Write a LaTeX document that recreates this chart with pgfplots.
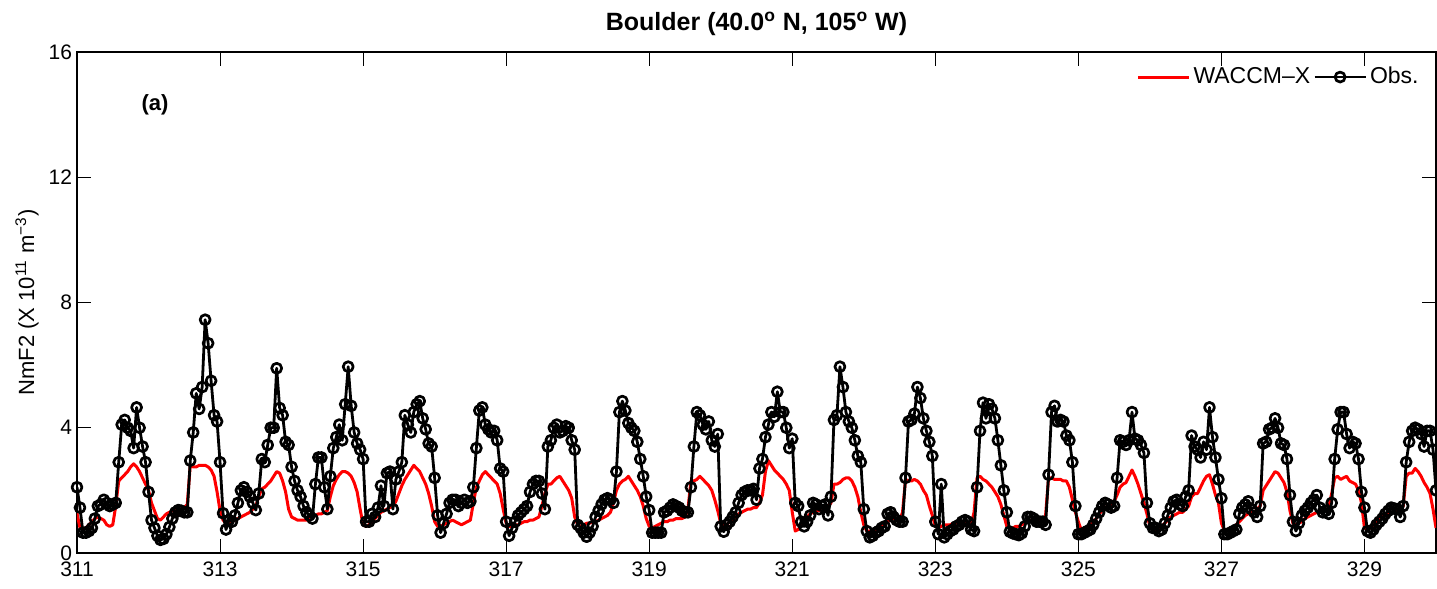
\documentclass[border=0pt]{standalone}
\usepackage{fontspec}
\setmainfont{Liberation Sans}
\usepackage{pgfplots}
\usepackage{pgfplotstable}
\pgfplotsset{compat=1.18}

% Hourly NmF2 (10^11 m^-3), one line per day (days 311 ... 329), last value at day 330 00 UT
\pgfplotstableread[header=false,row sep=\\]{
2.1\\1.45\\0.65\\0.65\\0.7\\0.8\\1.1\\1.5\\1.55\\1.7\\1.6\\1.5\\1.55\\1.6\\2.9\\4.1\\4.25\\4.0\\3.9\\3.35\\4.65\\4.0\\3.4\\2.9\\
1.95\\1.05\\0.8\\0.55\\0.42\\0.45\\0.6\\0.83\\1.1\\1.3\\1.37\\1.35\\1.3\\1.3\\2.95\\3.85\\5.1\\4.6\\5.3\\7.45\\6.7\\5.5\\4.4\\4.2\\
2.9\\1.27\\0.75\\1.05\\1.0\\1.2\\1.6\\2.0\\2.1\\1.95\\1.8\\1.6\\1.37\\1.9\\3.0\\2.9\\3.45\\4.0\\4.0\\5.9\\4.63\\4.4\\3.55\\3.45\\
2.75\\2.3\\2.0\\1.8\\1.5\\1.3\\1.2\\1.1\\2.2\\3.05\\3.05\\2.1\\1.4\\2.45\\3.35\\3.7\\4.1\\3.6\\4.75\\5.95\\4.7\\3.85\\3.5\\3.3\\
3.0\\1.0\\1.0\\1.25\\1.15\\1.45\\2.15\\1.5\\2.55\\2.6\\1.4\\2.35\\2.6\\2.9\\4.4\\4.1\\3.85\\4.5\\4.75\\4.85\\4.3\\3.95\\3.5\\3.4\\
2.4\\1.2\\0.65\\0.95\\1.25\\1.6\\1.7\\1.7\\1.5\\1.6\\1.7\\1.6\\1.65\\2.1\\3.35\\4.55\\4.65\\4.1\\3.95\\3.85\\3.9\\3.6\\2.7\\2.6\\
1.0\\0.55\\0.8\\1.0\\1.2\\1.3\\1.4\\1.5\\1.95\\2.2\\2.3\\2.3\\1.9\\1.4\\3.4\\3.6\\4.0\\4.1\\3.85\\3.9\\4.05\\4.0\\3.6\\3.3\\
0.9\\0.8\\0.65\\0.52\\0.65\\0.85\\1.15\\1.35\\1.55\\1.7\\1.75\\1.7\\1.6\\2.6\\4.5\\4.85\\4.55\\4.15\\4.0\\3.9\\3.55\\3.0\\2.45\\1.8\\
1.37\\0.65\\0.65\\0.65\\0.65\\1.3\\1.35\\1.45\\1.55\\1.5\\1.45\\1.35\\1.3\\1.3\\2.1\\3.4\\4.5\\4.4\\4.1\\3.95\\4.2\\3.6\\3.4\\3.8\\
0.85\\0.68\\0.9\\1.0\\1.15\\1.3\\1.6\\1.85\\1.95\\2.0\\2.0\\2.05\\1.7\\2.7\\3.0\\3.7\\4.1\\4.5\\4.35\\5.15\\4.5\\4.5\\4.0\\3.35\\
3.65\\1.6\\1.5\\1.0\\0.85\\1.0\\1.2\\1.6\\1.55\\1.4\\1.5\\1.55\\1.2\\1.8\\4.25\\4.4\\5.95\\5.3\\4.5\\4.2\\4.0\\3.6\\3.1\\2.9\\
1.4\\0.7\\0.5\\0.55\\0.65\\0.7\\0.8\\0.85\\1.25\\1.3\\1.15\\1.05\\1.0\\1.0\\2.4\\4.2\\4.25\\4.45\\5.3\\4.95\\4.3\\3.9\\3.55\\3.1\\
1.0\\0.6\\2.2\\0.5\\0.6\\0.7\\0.75\\0.85\\0.9\\1.0\\1.05\\1.0\\0.75\\0.7\\2.1\\3.9\\4.8\\4.3\\4.75\\4.6\\4.3\\3.6\\2.8\\2.0\\
1.3\\0.68\\0.63\\0.6\\0.57\\0.63\\0.85\\1.15\\1.15\\1.1\\1.0\\1.0\\1.0\\0.9\\2.5\\4.5\\4.7\\4.2\\4.25\\4.2\\3.75\\3.6\\2.9\\1.5\\
0.6\\0.6\\0.65\\0.7\\0.75\\0.9\\1.1\\1.3\\1.5\\1.6\\1.55\\1.45\\1.5\\2.4\\3.6\\3.55\\3.45\\3.6\\4.5\\3.65\\3.6\\3.45\\3.2\\1.6\\
0.95\\0.8\\0.8\\0.7\\0.75\\0.95\\1.2\\1.45\\1.65\\1.7\\1.55\\1.5\\1.8\\2.0\\3.75\\3.4\\3.3\\3.05\\3.55\\3.3\\4.65\\3.7\\3.05\\2.35\\
1.75\\0.6\\0.6\\0.65\\0.7\\0.75\\1.25\\1.45\\1.55\\1.65\\1.4\\1.3\\1.15\\1.5\\3.5\\3.55\\3.95\\4.0\\4.3\\4.0\\3.5\\3.45\\3.0\\1.85\\
1.0\\0.7\\0.95\\1.2\\1.35\\1.45\\1.6\\1.7\\1.85\\1.45\\1.3\\1.35\\1.25\\1.6\\3.0\\3.95\\4.5\\4.5\\3.8\\3.35\\3.55\\3.5\\3.0\\1.95\\
1.45\\0.7\\0.65\\0.75\\0.9\\1.0\\1.1\\1.25\\1.35\\1.45\\1.42\\1.4\\1.15\\1.5\\2.9\\3.55\\3.9\\4.0\\3.95\\3.8\\3.4\\3.9\\3.9\\3.3\\
2.0\\
}\obsdata

\pgfplotstableread[header=false,row sep=\\]{
1.27\\0.8\\0.75\\0.8\\0.9\\1.0\\1.1\\1.15\\1.1\\1.05\\0.9\\0.85\\0.9\\1.5\\2.3\\2.4\\2.5\\2.6\\2.75\\2.85\\2.75\\2.6\\2.4\\2.2\\
2.0\\1.6\\1.35\\1.1\\1.05\\1.15\\1.25\\1.3\\1.35\\1.35\\1.35\\1.4\\1.45\\1.55\\2.8\\2.75\\2.75\\2.8\\2.8\\2.8\\2.75\\2.65\\2.45\\1.95\\
1.35\\1.05\\0.95\\0.95\\1.0\\1.05\\1.1\\1.15\\1.2\\1.25\\1.3\\1.4\\1.5\\1.8\\2.05\\2.1\\2.2\\2.3\\2.45\\2.6\\2.55\\2.3\\1.95\\1.4\\
1.15\\1.1\\1.05\\1.05\\1.05\\1.05\\1.1\\1.15\\1.2\\1.25\\1.25\\1.3\\1.35\\1.8\\2.15\\2.35\\2.5\\2.6\\2.6\\2.55\\2.45\\2.25\\1.95\\1.4\\
0.9\\0.85\\0.9\\1.0\\1.1\\1.2\\1.3\\1.35\\1.4\\1.45\\1.5\\1.65\\1.9\\2.15\\2.35\\2.5\\2.65\\2.8\\2.7\\2.6\\2.4\\2.2\\1.9\\1.5\\
1.0\\0.85\\0.85\\0.9\\0.95\\1.0\\1.05\\1.0\\0.95\\0.9\\0.95\\1.0\\1.05\\1.6\\2.1\\2.3\\2.5\\2.6\\2.5\\2.4\\2.3\\2.2\\1.9\\1.4\\
0.95\\0.85\\0.85\\0.9\\0.9\\0.95\\1.0\\1.0\\1.05\\1.05\\1.1\\1.15\\1.5\\1.9\\2.2\\2.2\\2.3\\2.4\\2.45\\2.3\\2.15\\2.0\\1.75\\1.15\\
0.9\\0.85\\0.9\\0.95\\0.95\\1.0\\1.0\\1.05\\1.1\\1.15\\1.2\\1.3\\1.6\\2.0\\2.2\\2.3\\2.35\\2.45\\2.3\\2.15\\2.0\\1.8\\1.5\\1.1\\
0.85\\0.8\\0.85\\0.9\\0.95\\1.0\\1.0\\1.05\\1.05\\1.1\\1.1\\1.1\\1.15\\1.4\\2.3\\2.3\\2.35\\2.45\\2.35\\2.25\\2.15\\2.0\\1.7\\1.35\\
0.95\\0.85\\0.9\\1.0\\1.05\\1.15\\1.25\\1.3\\1.35\\1.4\\1.4\\1.45\\1.45\\1.6\\1.85\\2.6\\2.95\\2.8\\2.65\\2.55\\2.45\\2.35\\2.2\\2.0\\
1.3\\0.7\\0.75\\0.9\\1.0\\1.15\\1.25\\1.3\\1.35\\1.35\\1.4\\1.45\\1.5\\1.6\\2.2\\2.2\\2.25\\2.35\\2.4\\2.4\\2.3\\2.1\\1.8\\1.3\\
0.9\\0.7\\0.7\\0.72\\0.75\\0.8\\0.85\\0.9\\1.0\\1.05\\1.1\\1.1\\1.05\\1.3\\2.35\\2.3\\2.3\\2.35\\2.3\\2.2\\2.0\\1.85\\1.5\\1.2\\
0.85\\0.8\\0.85\\0.9\\0.9\\0.9\\0.95\\0.95\\1.0\\1.0\\1.0\\0.95\\0.9\\1.3\\2.4\\2.45\\2.35\\2.3\\2.2\\2.1\\1.95\\1.8\\1.55\\1.2\\
0.85\\0.8\\0.8\\0.85\\0.85\\0.9\\0.95\\1.0\\1.05\\1.05\\1.0\\1.0\\1.05\\1.2\\2.4\\2.4\\2.35\\2.35\\2.35\\2.3\\2.3\\2.1\\1.7\\1.3\\
1.0\\0.72\\0.75\\0.8\\0.9\\1.0\\1.1\\1.25\\1.35\\1.45\\1.5\\1.55\\1.65\\1.85\\2.1\\2.2\\2.25\\2.45\\2.65\\2.45\\2.2\\1.9\\1.6\\1.25\\
0.85\\0.75\\0.75\\0.8\\0.85\\0.95\\1.05\\1.15\\1.2\\1.25\\1.3\\1.3\\1.4\\1.5\\1.8\\1.9\\1.9\\2.1\\2.3\\2.45\\2.5\\2.2\\1.85\\1.6\\
0.95\\0.72\\0.75\\0.8\\0.83\\0.9\\1.0\\1.1\\1.2\\1.25\\1.3\\1.3\\1.4\\1.5\\2.0\\2.15\\2.3\\2.45\\2.6\\2.55\\2.4\\2.25\\1.95\\1.35\\
0.95\\0.9\\0.95\\1.0\\1.1\\1.15\\1.2\\1.25\\1.3\\1.3\\1.35\\1.35\\1.45\\1.9\\2.4\\2.45\\2.35\\2.4\\2.45\\2.3\\2.25\\2.2\\2.0\\1.6\\
0.8\\0.75\\0.8\\0.9\\1.0\\1.1\\1.15\\1.2\\1.25\\1.3\\1.3\\1.35\\1.35\\1.5\\2.45\\2.55\\2.55\\2.7\\2.6\\2.45\\2.25\\2.1\\1.9\\1.4\\
0.8\\
}\modeldata

\begin{document}
\begin{tikzpicture}
\begin{axis}[
  at={(0,0)}, anchor=south west,
  scale only axis, width=679.5pt, height=250.5pt,
  xmin=311, xmax=330, ymin=0, ymax=16,
  xtick={311,313,...,329}, ytick={0,4,8,12,16},
  tick align=inside, major tick length=7pt,
  axis line style={line width=0.7pt},
  every tick/.style={black, line width=0.5pt},
  /pgf/number format/assume math mode=true,
  /pgf/number format/1000 sep={},
  ticklabel style={font=\fontsize{10.5}{12}\selectfont},
  yticklabel style={xshift=1pt},
  xticklabel style={yshift=-1pt},
  title={Boulder (40.0\textsuperscript{o} N, 105\textsuperscript{o} W)},
  title style={font=\fontsize{12.5}{14}\selectfont\bfseries, at={(axis description cs:0.5,1)}, anchor=center, yshift=8pt},
  ylabel={NmF2 (X 10\textsuperscript{11} m\textsuperscript{−3})},
  every axis y label/.style={at={(axis description cs:-0.0368,0.5)}, rotate=90, anchor=center, font=\fontsize{11}{13}\selectfont},
  legend style={draw=none, fill=none, at={(0.9897,0.95)}, anchor=east, legend columns=2,
    font=\fontsize{11.5}{13}\selectfont, inner sep=0pt,
    nodes={inner xsep=1.5pt, inner ysep=1pt},
    /tikz/every even column/.append style={column sep=0pt}},
  legend image code/.code={\draw[mark repeat=2,mark phase=2,#1] plot coordinates {(0pt,0pt)(12.75pt,0pt)(25.5pt,0pt)};},
]
\addplot[red, line width=1.5pt, line join=round, no markers]
  table[x expr=311+\coordindex/24, y index=0] {\modeldata};
\addlegendentry{WACCM–X}
\addplot[black, line width=1.4pt, line join=round, mark=o, mark size=2.5pt,
  mark options={line width=1.35pt, solid}]
  table[x expr=311+\coordindex/24, y index=0] {\obsdata};
\addlegendentry{Obs.}
\node[font=\fontsize{11}{13}\selectfont\bfseries] at (rel axis cs:0.0574,0.894) {(a)};
\end{axis}
\pgfresetboundingbox
\path[use as bounding box] (-38.5pt,-18pt) rectangle (680pt,276.5pt);
\end{tikzpicture}
\end{document}
